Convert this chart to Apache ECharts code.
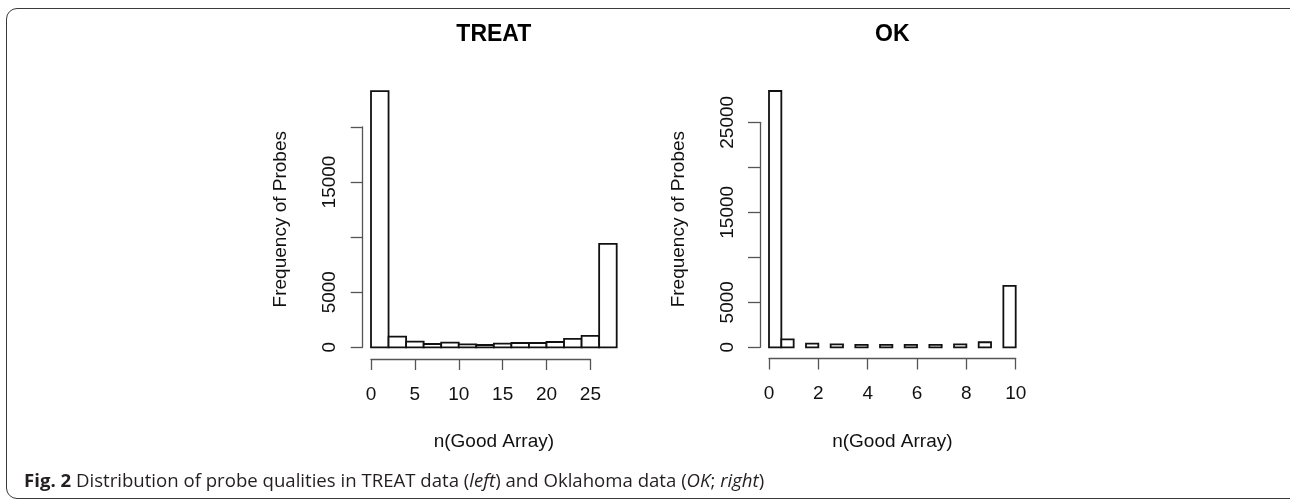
<!DOCTYPE html>
<html><head><meta charset="utf-8">
<script src="https://cdn.jsdelivr.net/npm/echarts@6/dist/echarts.min.js"></script>
<style>
html,body{margin:0;padding:0;background:#fff;overflow:hidden;width:1290px;height:500px;}
#frame{position:absolute;left:6px;top:8px;width:1300px;height:491px;border:1.6px solid #3a3a3a;border-radius:11px;box-sizing:border-box;}
#chart{position:absolute;left:0;top:0;width:1290px;height:500px;}
</style></head><body>
<div id="frame"></div>
<div id="chart"></div>
<script>
// ---- data ----
const treatBinStarts = [0, 2, 4, 6, 8, 10, 12, 14, 16, 18, 20, 22, 24, 26];
const treatBinWidth = 2;
const treatCounts = [23250, 970, 515, 300, 420, 270, 210, 330, 390, 390, 480, 760, 1030, 9380];
const treatXTickLabels = ['0', '5', '10', '15', '20', '25'];
const treatYTickLabels = ['0', '5000', '', '15000', ''];

const okBinStarts = [0, 0.5, 1.5, 2.5, 3.5, 4.5, 5.5, 6.5, 7.5, 8.5, 9.5];
const okBinWidth = 0.5;
const okCounts = [28480, 890, 410, 330, 260, 260, 260, 260, 330, 560, 6830];
const okXTickLabels = ['0', '2', '4', '6', '8', '10'];
const okYTickLabels = ['0', '5000', '', '15000', '', '25000'];

const panelTitles = ['TREAT', 'OK'];
const xTitle = 'n(Good Array)';
const yTitle = 'Frequency of Probes';

// ---- layout ----
const FONT = '"Liberation Sans", Arial, sans-serif';
const CAPFONT = '"Open Sans", sans-serif';
const AX = '#555';
const P = [
  { // TREAT
    x0: 371, ux: 8.775, y0: 347.3, uy: 0.01102,
    xmin: -1.12, xmax: 29.12, ymin: -930, ymax: 24180,
    tickXMax: 25, tickXInt: 5, tickYMax: 20000, tickYInt: 5000,
    yAxisPx: 362.7, xAxisPx: 359
  },
  { // OK
    x0: 769, ux: 24.67, y0: 347.3, uy: 0.009,
    xmin: -0.4, xmax: 10.4, ymin: -1139, ymax: 29619,
    tickXMax: 10, tickXInt: 2, tickYMax: 25000, tickYInt: 5000,
    yAxisPx: 760, xAxisPx: 358.5
  }
];
const xLabels = [treatXTickLabels, okXTickLabels];
const yLabels = [treatYTickLabels, okYTickLabels];

function toRows(starts, w, counts) {
  return starts.map((s, i) => [s, s + w, counts[i]]);
}
const seriesData = [
  toRows(treatBinStarts, treatBinWidth, treatCounts),
  toRows(okBinStarts, okBinWidth, okCounts)
];

const hiddenAxis = { axisLine: { show: false }, axisTick: { show: false }, axisLabel: { show: false }, splitLine: { show: false } };
const grid = [], xAxis = [], yAxis = [], series = [], graphic = [];
P.forEach((p, k) => {
  const dl = p.x0 + p.xmin * p.ux, dw = (p.xmax - p.xmin) * p.ux;
  const dt = p.y0 - p.ymax * p.uy, dh = (p.ymax - p.ymin) * p.uy;
  const gd = grid.length;
  // data grid (plot region)
  grid.push({ left: dl, top: dt, width: dw, height: dh });
  // x-axis grid: same x scale, bottom edge at the drawn axis line
  const gx = grid.length;
  grid.push({ left: p.x0, top: p.xAxisPx - 100, width: p.tickXMax * p.ux, height: 100 });
  // y-axis grid: same y scale, left edge at the drawn axis line
  const gy = grid.length;
  grid.push({ left: p.yAxisPx, top: p.y0 - p.tickYMax * p.uy, width: 10, height: p.tickYMax * p.uy });

  xAxis.push(Object.assign({
    gridIndex: gd, type: 'value', min: p.xmin, max: p.xmax,
    name: xTitle, nameLocation: 'middle', nameGap: 75,
    nameTextStyle: { fontSize: 19, fontFamily: FONT, color: '#111' }
  }, hiddenAxis));
  yAxis.push(Object.assign({
    gridIndex: gd, type: 'value', min: p.ymin, max: p.ymax,
    name: yTitle, nameLocation: 'middle', nameGap: 71, nameRotate: 90,
    nameTextStyle: { fontSize: 19, fontFamily: FONT, color: '#111' }
  }, hiddenAxis));

  xAxis.push({
    gridIndex: gx, type: 'value', min: 0, max: p.tickXMax, interval: p.tickXInt, position: 'bottom',
    axisLine: { show: true, lineStyle: { color: AX, width: 1.3 } },
    axisTick: { show: true, inside: false, length: 11, lineStyle: { color: AX, width: 1.3 } },
    axisLabel: { show: true, margin: 26, fontSize: 19, fontFamily: FONT, color: '#111',
      showMinLabel: true, showMaxLabel: true, hideOverlap: false,
      formatter: (v, i) => xLabels[k][i] },
    splitLine: { show: false }
  });
  yAxis.push(Object.assign({ gridIndex: gx, type: 'value', min: 0, max: 1 }, hiddenAxis));

  xAxis.push(Object.assign({ gridIndex: gy, type: 'value', min: 0, max: 1 }, hiddenAxis));
  yAxis.push({
    gridIndex: gy, type: 'value', min: 0, max: p.tickYMax, interval: p.tickYInt, position: 'left',
    axisLine: { show: true, lineStyle: { color: AX, width: 1.3 } },
    axisTick: { show: true, inside: false, length: 12, lineStyle: { color: AX, width: 1.3 } },
    axisLabel: { show: true, rotate: 90, margin: 23, fontSize: 19, fontFamily: FONT, color: '#111',
      showMinLabel: true, showMaxLabel: true, hideOverlap: false,
      formatter: (v, i) => yLabels[k][i] },
    splitLine: { show: false }
  });

  series.push({
    type: 'custom', xAxisIndex: gd, yAxisIndex: gd, data: seriesData[k],
    encode: { x: [0, 1], y: 2 }, clip: false, silent: true,
    renderItem: function (params, api) {
      const a = api.coord([api.value(0), 0]);
      const b = api.coord([api.value(1), api.value(2)]);
      return { type: 'rect', shape: { x: a[0], y: b[1], width: b[0] - a[0], height: a[1] - b[1] },
        style: { fill: '#fff', stroke: '#111', lineWidth: 1.8 } };
    }
  });
  graphic.push({
    type: 'text', x: dl + dw / 2, y: 35,
    style: { text: panelTitles[k], align: 'center', verticalAlign: 'middle',
      font: 'bold 23px ' + FONT, fill: '#000' }
  });
});

const chart = echarts.init(document.getElementById('chart'), null, { renderer: 'canvas' });
chart.setOption({
  animation: false,
  backgroundColor: 'transparent',
  title: [{
    left: 19, top: 467,
    text: '{b|Fig. 2} Distribution of probe qualities in TREAT data ({i|left}) and Oklahoma data ({i|OK}; {i|right})',
    textStyle: { fontSize: 18.6, fontWeight: 'normal', fontFamily: CAPFONT, color: '#231f20',
      rich: {
        b: { fontSize: 18.6, fontWeight: 'bold', fontFamily: CAPFONT, color: '#231f20' },
        i: { fontSize: 18.6, fontStyle: 'italic', fontFamily: CAPFONT, color: '#231f20' }
      } }
  }],
  grid, xAxis, yAxis, series, graphic
});
</script></body></html>
